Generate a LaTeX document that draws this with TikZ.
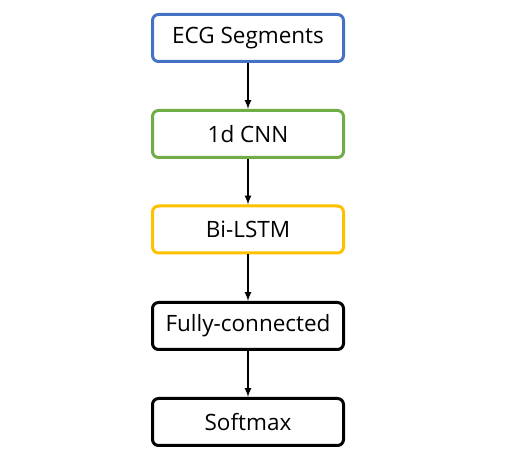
\documentclass[tikz,border=0pt]{standalone}
\usepackage{fontspec}
\setmainfont{Open Sans}
\definecolor{segblue}{RGB}{68, 114, 196}
\definecolor{cnngreen}{RGB}{112, 173, 71}
\definecolor{lstmgold}{RGB}{255, 192, 0}
\begin{document}
\begin{tikzpicture}[x=1pt, y=1pt,
    block/.style={draw, rounded corners=6pt, line width=3pt, minimum width=191pt, minimum height=47pt, font=\fontsize{22.5}{27}\selectfont},
    link/.style={-latex, line width=2pt}]
                    \useasboundingbox (0,0) rectangle (506,457);
                    \node[block, draw=segblue] (seg) at (248,419) {ECG Segments};
                    \node[block, draw=cnngreen] (cnn) at (248,323) {1d CNN};
                    \node[block, draw=lstmgold] (lstm) at (248,227.5) {Bi-LSTM};
                    \node[block, draw=black] (fc) at (248,131) {Fully-connected};
                    \node[block, draw=black] (soft) at (248,35) {Softmax};
                    
                    \draw[link] (seg) -- (cnn);
                    \draw[link] (cnn) -- (lstm);
                    \draw[link] (lstm) -- (fc);
                    \draw[link] (fc) -- (soft);
                \end{tikzpicture}
\end{document}
